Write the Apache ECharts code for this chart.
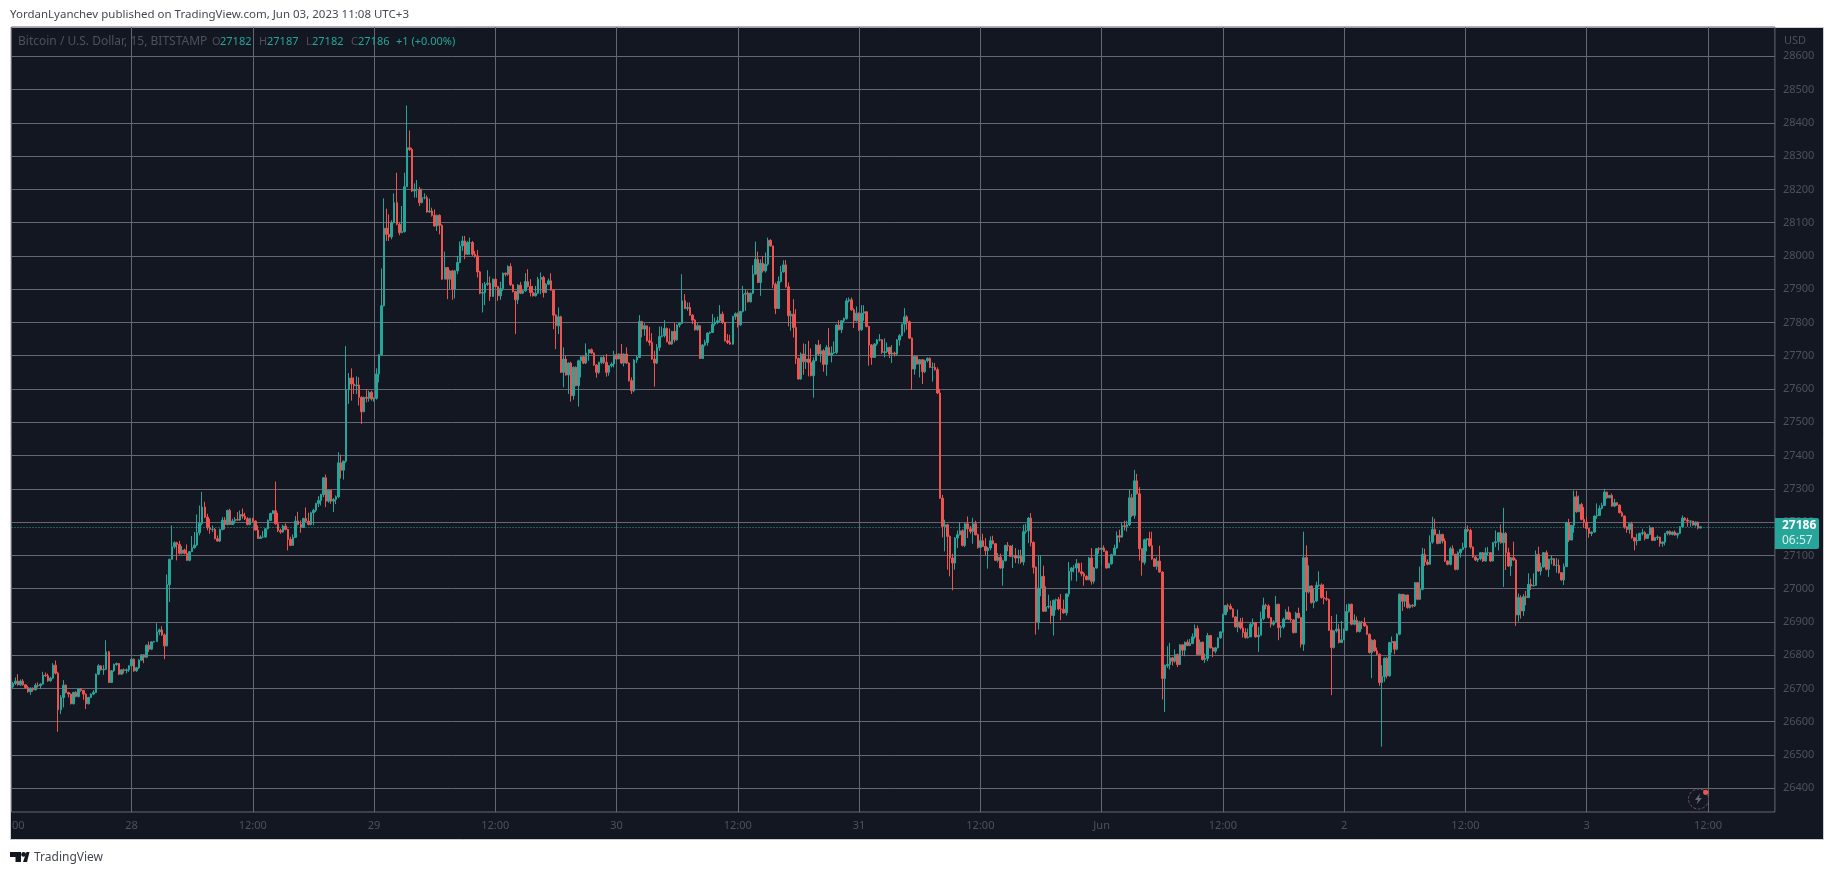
<!DOCTYPE html>
<html>
<head>
<meta charset="utf-8">
<style>html,body{margin:0;padding:0;background:#fff}#c{width:1834px;height:875px}</style>
<script src="https://cdn.jsdelivr.net/npm/echarts@6/dist/echarts.min.js"></script>
</head>
<body>
<div id="c"></div>
<script>
const firstOpen = 26705;
const closes = [
26715,26722,26711,26722,26711,26703,26690,26701,26696,26709,
26708,26713,26740,26738,26723,26731,26770,26746,26636,26673,
26710,26688,26683,26654,26688,26676,26698,26694,26683,26654,
26673,26683,26688,26743,26768,26756,26758,26810,26718,26753,
26772,26775,26743,26756,26754,26756,26768,26788,26753,26762,
26785,26801,26794,26830,26818,26840,26841,26870,26876,26861,
26828,27012,27088,27126,27138,27133,27106,27116,27106,27085,
27111,27123,27131,27168,27196,27245,27215,27183,27178,27178,
27150,27143,27178,27206,27193,27235,27193,27203,27208,27206,
27223,27218,27210,27193,27211,27203,27176,27151,27155,27155,
27180,27205,27226,27234,27195,27175,27170,27188,27178,27148,
27130,27154,27203,27193,27184,27211,27203,27193,27228,27235,
27256,27265,27283,27333,27263,27296,27263,27268,27276,27378,
27356,27383,27598,27633,27615,27610,27612,27575,27532,27575,
27572,27590,27570,27572,27645,27703,27850,28083,28065,28057,
28100,28160,28095,28070,28073,28208,28325,28320,28195,28200,
28200,28160,28175,28175,28132,28135,28122,28090,28122,28092,
27930,27965,27930,27955,27900,27955,27980,28030,28045,28005,
28040,28040,28005,28000,27952,27888,27890,27915,27918,27878,
27930,27908,27880,27902,27948,27945,27968,27913,27893,27868,
27912,27888,27895,27923,27908,27890,27880,27888,27930,27935,
27890,27915,27925,27897,27822,27790,27817,27650,27690,27642,
27678,27580,27665,27610,27685,27697,27678,27708,27718,27708,
27672,27650,27680,27695,27680,27650,27670,27675,27703,27690,
27705,27678,27705,27678,27625,27595,27687,27695,27803,27780,
27790,27745,27740,27690,27678,27725,27758,27760,27782,27742,
27735,27773,27748,27792,27797,27865,27842,27845,27822,27807,
27778,27790,27692,27732,27740,27768,27770,27795,27800,27805,
27825,27800,27745,27740,27735,27818,27826,27793,27833,27885,
27888,27862,27888,27945,27990,27920,27978,27955,27975,28047,
28030,27915,27842,27923,27952,27973,27907,27820,27825,27785,
27692,27630,27705,27682,27690,27680,27640,27685,27732,27705,
27715,27674,27725,27702,27708,27710,27792,27778,27805,27812,
27865,27868,27838,27805,27828,27778,27828,27832,27788,27732,
27695,27735,27747,27748,27710,27712,27725,27705,27708,27705,
27747,27760,27795,27817,27802,27753,27660,27698,27675,27688,
27652,27685,27692,27665,27665,27658,27588,27272,27187,27192,
27157,27092,27077,27152,27162,27174,27130,27195,27180,27172,
27195,27162,27124,27144,27127,27114,27122,27144,27135,27085,
27095,27062,27084,27130,27128,27097,27100,27092,27097,27080,
27171,27174,27212,27139,27064,26900,27002,27037,26932,26945,
26947,26919,26965,26967,26939,26938,26927,26984,27052,27062,
27062,27075,27051,27045,27037,27027,27092,27022,27062,27120,
27118,27122,27112,27062,27075,27102,27122,27159,27155,27189,
27187,27192,27273,27220,27324,27285,27120,27079,27147,27150,
27129,27089,27067,27083,27050,26730,26769,26772,26792,26782,
26802,26772,26831,26815,26839,26829,26835,26855,26880,26802,
26839,26787,26790,26859,26822,26812,26822,26852,26870,26922,
26949,26947,26939,26915,26885,26900,26882,26868,26853,26855,
26893,26898,26855,26860,26910,26950,26948,26913,26893,26900,
26953,26883,26885,26908,26930,26908,26906,26868,26926,26913,
26833,27093,26990,27008,26958,26963,27010,27011,26973,26970,
26968,26875,26823,26873,26878,26838,26846,26875,26931,26953,
26893,26905,26871,26900,26898,26888,26863,26808,26845,26813,
26803,26718,26736,26791,26738,26838,26841,26818,26863,26983,
26962,26981,26943,26950,26948,27018,26968,26998,27103,27080,
27073,27140,27178,27163,27136,27163,27143,27083,27073,27120,
27103,27058,27108,27118,27124,27178,27175,27125,27095,27086,
27090,27108,27083,27108,27108,27083,27138,27141,27168,27138,
27166,27108,27068,27093,27086,26921,26973,26933,26976,26973,
27013,27008,27010,27103,27053,27065,27108,27058,27088,27090,
27070,27070,27048,27026,27066,27198,27146,27190,27276,27231,
27253,27208,27200,27181,27166,27170,27218,27220,27241,27250,
27290,27273,27280,27248,27258,27251,27228,27218,27186,27178,
27195,27153,27143,27145,27166,27168,27151,27163,27183,27145,
27153,27155,27136,27140,27166,27172,27163,27170,27161,27166,
27186,27212,27206,27203,27203,27191,27200,27182,27186];
const highs = [
26720,26733,26743,26727,26728,26712,26708,26703,26703,26716,
26718,26716,26750,26748,26745,26735,26776,26784,26750,26680,
26725,26712,26690,26685,26690,26692,26700,26701,26696,26685,
26675,26685,26695,26745,26773,26770,26770,26845,26813,26755,
26775,26778,26775,26758,26760,26760,26770,26790,26790,26765,
26788,26803,26803,26832,26841,26842,26843,26896,26880,26887,
26865,27043,27090,27190,27142,27141,27143,27128,27120,27133,
27113,27158,27170,27223,27250,27291,27261,27225,27210,27190,
27182,27160,27180,27215,27215,27237,27240,27210,27215,27230,
27235,27241,27228,27215,27213,27213,27205,27190,27160,27173,
27182,27208,27228,27236,27322,27228,27180,27192,27196,27180,
27156,27163,27218,27231,27205,27213,27244,27228,27231,27240,
27258,27278,27285,27335,27343,27298,27285,27272,27280,27410,
27403,27385,27729,27648,27662,27635,27638,27635,27578,27577,
27600,27595,27595,27575,27662,27705,27962,28173,28142,28125,
28107,28188,28250,28100,28150,28250,28452,28377,28325,28218,
28228,28208,28202,28188,28182,28172,28145,28140,28124,28125,
28095,28013,27967,27958,27958,27958,28000,28043,28060,28060,
28045,28055,28045,28015,28018,27955,27918,27922,27957,27938,
27932,27932,27910,27922,27950,27950,27972,27978,27915,27895,
27915,27922,27898,27948,27960,27930,27910,27910,27937,27950,
27940,27918,27932,27948,27900,27825,27845,27820,27725,27700,
27680,27682,27668,27668,27688,27700,27700,27737,27720,27722,
27710,27675,27682,27697,27700,27705,27672,27680,27715,27708,
27707,27735,27707,27725,27680,27635,27690,27700,27822,27805,
27798,27790,27787,27768,27715,27735,27788,27788,27807,27785,
27782,27775,27798,27795,27800,27945,27885,27860,27860,27825,
27810,27798,27792,27735,27748,27770,27773,27825,27815,27818,
27852,27833,27802,27765,27763,27820,27830,27830,27835,27910,
27900,27895,27890,27972,28043,28013,27990,28000,28010,28055,
28050,28027,27920,27938,27970,27987,27987,27920,27835,27870,
27840,27695,27710,27737,27735,27745,27722,27695,27735,27747,
27735,27720,27732,27783,27728,27743,27795,27807,27807,27815,
27873,27875,27875,27842,27848,27830,27852,27852,27834,27790,
27735,27738,27750,27765,27750,27752,27740,27727,27732,27712,
27750,27765,27797,27843,27822,27805,27755,27702,27700,27690,
27690,27688,27695,27695,27680,27678,27665,27600,27282,27207,
27195,27160,27105,27155,27175,27199,27178,27197,27217,27189,
27213,27204,27165,27155,27165,27152,27125,27157,27159,27137,
27107,27105,27087,27132,27140,27130,27132,27122,27117,27117,
27192,27195,27215,27227,27142,27067,27100,27100,27069,27007,
26982,26964,26967,26970,26975,26984,26967,26986,27080,27065,
27070,27089,27078,27078,27050,27040,27095,27122,27065,27122,
27125,27125,27130,27115,27078,27105,27132,27172,27177,27199,
27204,27204,27297,27285,27357,27345,27305,27115,27150,27152,
27171,27171,27092,27095,27129,27052,26772,26827,26837,26795,
26817,26805,26833,26833,26841,26847,26849,26865,26892,26889,
26847,26841,26805,26867,26861,26825,26825,26854,26872,26925,
26951,26955,26955,26941,26917,26937,26912,26913,26881,26880,
26898,26910,26900,26885,26931,26973,26955,26953,26915,26905,
26978,26955,26890,26913,26938,26946,26928,26908,26930,26943,
26915,27171,27130,27070,27010,27000,27021,27052,27016,27013,
26993,26970,26918,26875,26923,26893,26903,26880,26953,26955,
26955,26923,26916,26903,26903,26913,26892,26865,26848,26848,
26823,26805,26770,26793,26795,26840,26856,26843,26866,26985,
26978,26983,26981,26955,26953,27020,27008,27066,27123,27120,
27088,27160,27216,27210,27165,27176,27165,27151,27085,27126,
27130,27105,27112,27120,27138,27182,27190,27180,27127,27098,
27092,27110,27110,27123,27125,27110,27140,27175,27170,27193,
27243,27170,27123,27095,27141,27090,26985,26980,26983,26993,
27046,27030,27046,27115,27126,27078,27110,27115,27090,27100,
27091,27092,27088,27050,27076,27201,27210,27192,27295,27294,
27280,27258,27245,27215,27183,27172,27220,27256,27250,27258,
27300,27292,27282,27286,27270,27260,27253,27233,27220,27188,
27197,27201,27155,27165,27168,27180,27173,27165,27190,27185,
27155,27160,27156,27142,27168,27174,27175,27172,27175,27168,
27188,27220,27215,27213,27205,27203,27202,27202,27187];
const lows = [
26700,26710,26708,26708,26708,26700,26687,26681,26690,26694,
26703,26698,26712,26735,26720,26720,26728,26742,26570,26623,
26643,26685,26673,26652,26652,26673,26673,26690,26666,26638,
26652,26671,26680,26686,26740,26754,26741,26755,26716,26721,
26750,26768,26740,26741,26745,26745,26750,26765,26750,26750,
26758,26783,26776,26792,26810,26815,26838,26840,26860,26858,
26788,26826,26960,27091,27120,27085,27102,27103,27103,27083,
27082,27110,27120,27128,27160,27190,27212,27175,27165,27170,
27148,27141,27140,27175,27178,27190,27191,27192,27195,27204,
27204,27210,27206,27190,27190,27200,27175,27150,27150,27153,
27153,27178,27203,27224,27192,27170,27165,27168,27175,27115,
27128,27148,27153,27190,27168,27183,27200,27190,27190,27190,
27230,27245,27250,27275,27245,27258,27255,27230,27254,27272,
27331,27328,27378,27555,27565,27585,27585,27550,27495,27530,
27560,27562,27565,27562,27568,27620,27700,27848,28045,28045,
28050,28098,28092,28062,28068,28070,28228,28315,28192,28175,
28175,28150,28158,28170,28130,28130,28118,28088,28075,28065,
27928,27930,27870,27900,27868,27872,27945,27978,28015,27990,
28003,28003,28000,27995,27935,27885,27830,27852,27910,27865,
27880,27905,27865,27868,27895,27938,27940,27910,27890,27765,
27855,27885,27885,27892,27905,27878,27878,27878,27885,27885,
27875,27888,27912,27895,27780,27720,27765,27648,27605,27640,
27585,27562,27568,27608,27547,27635,27675,27675,27685,27705,
27670,27634,27645,27675,27675,27637,27640,27665,27665,27688,
27690,27675,27668,27675,27622,27585,27590,27678,27693,27755,
27760,27742,27730,27688,27607,27675,27715,27755,27755,27740,
27733,27733,27740,27745,27785,27795,27840,27835,27820,27795,
27775,27775,27690,27695,27728,27730,27765,27768,27790,27795,
27800,27795,27743,27735,27733,27733,27808,27785,27790,27830,
27835,27860,27860,27885,27945,27918,27880,27950,27950,27970,
28028,27903,27825,27840,27920,27950,27905,27788,27775,27755,
27675,27628,27628,27643,27660,27638,27638,27574,27683,27700,
27680,27652,27640,27700,27680,27705,27705,27776,27768,27800,
27808,27860,27835,27783,27803,27775,27775,27805,27785,27670,
27673,27693,27730,27743,27705,27695,27708,27693,27678,27698,
27700,27730,27758,27770,27778,27750,27597,27643,27673,27635,
27615,27648,27680,27663,27622,27655,27585,27270,27154,27112,
27057,27037,26995,27057,27122,27160,27127,27125,27152,27165,
27135,27160,27120,27122,27125,27100,27060,27115,27133,27083,
27079,27060,27009,27082,27112,27095,27062,27077,27075,27075,
27070,27165,27137,27127,27045,26862,26877,26977,26930,26930,
26940,26895,26859,26935,26935,26905,26925,26919,26975,27024,
27049,27022,27048,27037,27009,27025,27025,27012,27015,27060,
27105,27069,27110,27060,27064,27072,27100,27120,27139,27153,
27175,27172,27188,27215,27210,27283,27084,27039,27072,27112,
27125,27087,27065,27057,27048,26667,26629,26762,26757,26769,
26777,26764,26770,26799,26797,26827,26827,26833,26850,26800,
26800,26784,26777,26782,26820,26794,26805,26820,26850,26868,
26920,26930,26937,26913,26883,26869,26877,26853,26850,26850,
26858,26885,26853,26810,26866,26905,26938,26910,26883,26888,
26898,26845,26853,26880,26905,26905,26900,26865,26866,26910,
26823,26813,26933,26986,26955,26941,26960,27005,26970,26953,
26963,26873,26680,26820,26868,26835,26838,26851,26873,26928,
26890,26890,26868,26868,26878,26885,26860,26805,26731,26810,
26800,26708,26525,26720,26730,26735,26808,26803,26815,26860,
26933,26945,26940,26940,26943,26945,26965,26966,26995,27068,
27070,27083,27135,27160,27133,27135,27136,27080,27070,27070,
27100,27055,27055,27093,27115,27133,27170,27120,27093,27083,
27080,27085,27080,27082,27100,27080,27082,27125,27115,27135,
27005,27056,27065,27038,27083,26888,26901,26910,26918,26950,
26973,26996,27008,27008,27050,27040,27063,27055,27035,27073,
27068,27048,27045,27024,27011,27072,27140,27146,27168,27228,
27231,27205,27183,27178,27153,27158,27168,27210,27218,27238,
27253,27270,27272,27246,27245,27249,27226,27216,27180,27168,
27165,27150,27115,27130,27143,27160,27145,27150,27160,27143,
27143,27146,27126,27126,27130,27160,27160,27160,27159,27151,
27164,27183,27204,27186,27186,27189,27186,27178,27182];
const timeTicks = ['28','12:00','29','12:00','30','12:00','31','12:00','Jun','12:00','2','12:00','3','12:00'];
const lastPrice = 27186;
const header = 'YordanLyanchev published on TradingView.com, Jun 03, 2023 11:08 UTC+3';

const UP = '#26a69a', DOWN = '#ef5350', BG = '#131722', GRID = '#666772', MUTED = '#4e515c';
const SLOTS = 698, FIRST_TICK = 47, PER_TICK = 48;
const cats = [];
for (let i = 0; i < SLOTS; i++) {
  const k = (i - FIRST_TICK) / PER_TICK;
  cats.push(Number.isInteger(k) && timeTicks[k] !== undefined ? timeTicks[k] : '');
}
const candles = closes.map((c, i) => {
  const o = i ? closes[i - 1] : firstOpen;
  return [o, c, Math.min(lows[i], o, c), Math.max(highs[i], o, c)];
});
const isTick = (i, v) => v !== '';
const txt = (x, y, s, fill, size, extra) => ({
  type: 'text', z: 20, silent: true, x, y,
  style: Object.assign({ text: s, fill, fontSize: size, fontFamily: 'Noto Sans', textVerticalAlign: 'middle' }, extra || {})
});
const chart = echarts.init(document.getElementById('c'), null, { renderer: 'canvas' });
chart.setOption({
  animation: false,
  backgroundColor: '#ffffff',
  grid: [
    { left: 11.5, width: 1763.4, top: 23, height: 798.55, containLabel: false },
    { left: 11.5, width: 1763.4, top: 27, height: 785, show: true, borderColor: GRID, borderWidth: 1, backgroundColor: 'transparent' }
  ],
  xAxis: [
    { type: 'category', gridIndex: 0, data: cats, show: false },
    { type: 'category', gridIndex: 1, data: cats,
      axisLine: { show: false }, axisTick: { show: false },
      axisLabel: { interval: isTick, color: MUTED, fontSize: 11, fontFamily: 'Noto Sans', margin: 8 },
      splitLine: { show: true, interval: isTick, alignWithLabel: true, lineStyle: { color: GRID, width: 1 } } }
  ],
  yAxis: [
    { type: 'value', gridIndex: 0, position: 'right', min: 26300, max: 28700, interval: 100,
      axisLine: { show: false }, axisTick: { show: false },
      axisLabel: { color: MUTED, fontSize: 11, fontFamily: 'Noto Sans', margin: 8, showMinLabel: false, showMaxLabel: false, formatter: v => String(v) },
      splitLine: { show: true, showMinLine: false, showMaxLine: false, lineStyle: { color: GRID, width: 1 } } },
    { type: 'value', gridIndex: 1, show: false }
  ],
  series: [{
    type: 'candlestick', xAxisIndex: 0, yAxisIndex: 0, data: candles, barWidth: 2, large: false, progressive: 0,
    itemStyle: { color: UP, color0: DOWN, borderColor: UP, borderColor0: DOWN, borderWidth: 1 },
    markLine: { silent: true, symbol: 'none', animation: false, label: { show: false },
      lineStyle: { color: UP, type: [1, 2], width: 1 }, data: [{ yAxis: lastPrice }] }
  }],
  graphic: [
    { type: 'rect', z: -10, silent: true, shape: { x: 10.5, y: 27.5, width: 1813, height: 812 },
      style: { fill: BG, stroke: '#ccced6', lineWidth: 1 } },
    txt(10, 15, header, '#454851', 11.5),
    txt(18, 42, 'Bitcoin / U.S. Dollar, 15, BITSTAMP', MUTED, 12),
    txt(212, 42, 'O', MUTED, 11), txt(220, 42, '27182', UP, 11),
    txt(259, 42, 'H', MUTED, 11), txt(267, 42, '27187', UP, 11),
    txt(306, 42, 'L', MUTED, 11), txt(312, 42, '27182', UP, 11),
    txt(351, 42, 'C', MUTED, 11), txt(358, 42, '27186', UP, 11),
    txt(396, 42, '+1 (+0.00%)', UP, 11),
    txt(1784, 41, 'USD', MUTED, 11),
    txt(12, 826, '00', MUTED, 11),
    { type: 'rect', z: 15, silent: true, shape: { x: 1775, y: 518, width: 44, height: 31, r: [0, 2, 2, 0] }, style: { fill: UP } },
    txt(1782, 526, '27186', '#ffffff', 12, { fontWeight: 'bold' }),
    txt(1782, 541, '06:57', '#d6efec', 12),
    { type: 'circle', z: 20, silent: true, shape: { cx: 1698.5, cy: 799, r: 10 }, style: { fill: BG, stroke: '#74505b', lineWidth: 1, lineDash: [3, 1.5] } },
    { type: 'polygon', z: 21, silent: true, shape: { points: [[1700, 793.5], [1695, 800], [1698, 800], [1696.5, 804.5], [1702, 798], [1699, 798]] }, style: { fill: '#666772' } },
    { type: 'circle', z: 22, silent: true, shape: { cx: 1705.7, cy: 792.3, r: 2.6 }, style: { fill: '#ef5350' } },
    { type: 'polygon', z: 20, silent: true, shape: { points: [[10, 852], [21, 852], [21, 862], [15.5, 862], [15.5, 857], [10, 857]] }, style: { fill: '#131722' } },
    { type: 'circle', z: 20, silent: true, shape: { cx: 23.6, cy: 854.4, r: 2.4 }, style: { fill: '#131722' } },
    { type: 'polygon', z: 20, silent: true, shape: { points: [[23, 862], [26.5, 852], [29.5, 852], [27, 862]] }, style: { fill: '#131722' } },
    txt(34, 857.5, 'TradingView', '#454851', 12)
  ]
});
</script>
</body>
</html>
